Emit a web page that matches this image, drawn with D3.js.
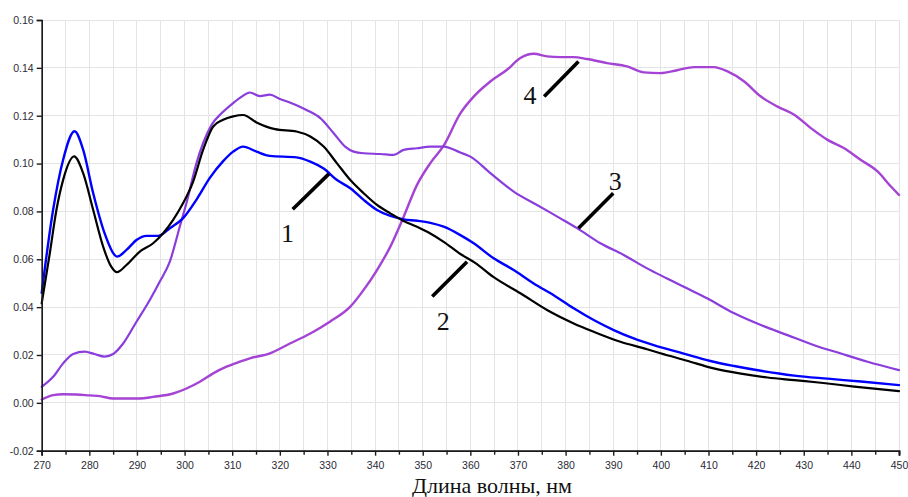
<!DOCTYPE html>
<html><head><meta charset="utf-8">
<script src="https://cdn.jsdelivr.net/npm/d3@7"></script>
<style>
html,body{margin:0;padding:0;background:#fff;}
svg{display:block;}
</style></head>
<body>
<svg id="chart" width="908" height="497"></svg>
<script>
// ---- data (wavelength nm, absorbance) ----
const series1 = [[270,0.046],[272.4,0.0807],[274.5,0.1016],[276.9,0.1135],[278.7,0.1058],[280.8,0.0877],[283.2,0.0709],[285.3,0.0618],[285.8,0.0611],[287.8,0.0639],[289.9,0.0681],[292,0.0698],[294.5,0.0698],[296.9,0.073],[299.7,0.0772],[302.5,0.0849],[305.3,0.094],[308.1,0.101],[310.2,0.105],[312.3,0.1071],[315.1,0.105],[317.9,0.1032],[323.5,0.1026],[326.4,0.1008],[329.2,0.0979],[332,0.0931],[334.8,0.0897],[337.6,0.0848],[340.4,0.0806],[343.2,0.0781],[346,0.0767],[348.8,0.0761],[351.6,0.0752],[354.4,0.0736],[357.9,0.0701],[360.7,0.0667],[364.9,0.0604],[369.1,0.0555],[373.3,0.0499],[377.5,0.045],[381.7,0.0395],[385.9,0.0346],[390.1,0.0304],[394.3,0.0269],[398.5,0.0241],[404.8,0.0206],[410.4,0.0175],[415.4,0.0154],[421,0.0134],[428,0.0114],[435,0.0101],[442,0.0089],[450,0.0074]];
const series2 = [[270,0.0416],[271.7,0.0625],[273.1,0.0807],[274.5,0.0932],[276.8,0.103],[278.7,0.096],[280.8,0.0807],[282.9,0.0653],[284.6,0.0569],[285.8,0.0546],[287.8,0.0576],[290.6,0.0632],[293.4,0.0667],[295.5,0.0709],[297.6,0.0765],[299.7,0.0835],[301.8,0.0925],[303.9,0.1058],[306,0.1155],[308.1,0.1183],[310.2,0.1197],[312.3,0.1203],[315.1,0.1172],[319,0.1144],[323.5,0.1134],[326.4,0.1113],[329.2,0.1071],[332,0.1001],[334.8,0.0931],[337.6,0.0876],[340.4,0.0827],[343.2,0.0792],[346,0.076],[348.8,0.0736],[351.6,0.0708],[354.4,0.0673],[357.9,0.0622],[361,0.0585],[364.9,0.0525],[370.5,0.0458],[376.1,0.0388],[381.7,0.0332],[385.9,0.0297],[391.5,0.0255],[397.1,0.0224],[399.9,0.0207],[405.5,0.0176],[411.1,0.0144],[416.8,0.0122],[422.4,0.0106],[428,0.0095],[433.6,0.0084],[440.6,0.0068],[450,0.0049]];
const series3 = [[270,0.0067],[272.4,0.0109],[274.5,0.0165],[276.6,0.0204],[279,0.0214],[281.1,0.0204],[283.2,0.0193],[285,0.0204],[287.1,0.0248],[289.9,0.0339],[292.7,0.043],[294.8,0.0507],[296.9,0.059],[299,0.0737],[300.4,0.0835],[302.5,0.1002],[303.9,0.1086],[305.7,0.1163],[307.8,0.1211],[310.2,0.1253],[312,0.128],[313.7,0.1297],[315.8,0.1282],[317.9,0.1288],[320,0.127],[322.1,0.1255],[325.6,0.1224],[328.5,0.119],[331.3,0.1127],[333.7,0.1071],[335.5,0.105],[337.6,0.1043],[341.1,0.104],[343.9,0.1036],[346,0.1057],[348.8,0.1064],[351.6,0.1071],[354.4,0.1071],[357.9,0.1046],[360,0.1029],[364.2,0.096],[369.1,0.0883],[374,0.0827],[378.9,0.0771],[382.4,0.073],[387.3,0.0667],[392.2,0.0618],[397.1,0.0562],[401.3,0.052],[404.8,0.0485],[409.7,0.0437],[415.4,0.0374],[421,0.0325],[426.6,0.0283],[432.2,0.0241],[437.8,0.0206],[443.4,0.0172],[450,0.0137]];
const series4 = [[270,0.0014],[272.4,0.0032],[274.5,0.0036],[277.3,0.0035],[280.1,0.0031],[282.2,0.0028],[285,0.0018],[290.6,0.0018],[293.4,0.0025],[297.6,0.0039],[300.4,0.006],[303.2,0.0088],[306,0.0123],[308.8,0.0151],[311.6,0.0172],[313.7,0.0186],[317.9,0.0207],[322.1,0.0248],[326.4,0.029],[330.5,0.0339],[334.8,0.0402],[337.6,0.0472],[340.4,0.0555],[343.2,0.0653],[346,0.0778],[348.8,0.0911],[351.6,0.1002],[354.4,0.1075],[357.9,0.121],[360.7,0.128],[364.2,0.1343],[367.7,0.1392],[370.5,0.1441],[373.3,0.1459],[376.1,0.1448],[378.9,0.1445],[381.7,0.1445],[384.5,0.1437],[388.7,0.142],[392.9,0.1406],[396.4,0.1381],[399.9,0.1378],[403.4,0.139],[407,0.1403],[411.1,0.1403],[414,0.1385],[417.5,0.1343],[421,0.128],[424.5,0.1238],[428,0.1204],[431.5,0.1148],[435,0.1099],[438.5,0.1064],[442,0.1015],[445.5,0.0967],[448.3,0.0904],[450,0.0869]];

const seriesList = [series1, series2, series3, series4];
const seriesColors = ["#0000ff", "#000000", "#8a3ddc", "#a443d4"];
const seriesWidths = [2.4, 2.2, 2.2, 2.4];

const xMajorTicks = [270,280,290,300,310,320,330,340,350,360,370,380,390,400,410,420,430,440,450];
const xMinorTicks = [275,285,295,305,315,325,335,345,355,365,375,385,395,405,415,425,435,445];
const yTicks = [-0.02,0.00,0.02,0.04,0.06,0.08,0.10,0.12,0.14,0.16];
const yTickLabels = ["-0.02","0.00","0.02","0.04","0.06","0.08","0.10","0.12","0.14","0.16"];

// annotation leaders in data units
const annLabels = ["1","2","3","4"];
const annLines = [[322.7,0.0809,330.3,0.0957],[352.0,0.0444,359.3,0.059],[382.7,0.073,390.0,0.0876],[375.5,0.128,382.7,0.1427]];
const annText = [[321.6,0.0672],[354.3,0.0304],[390.4,0.089],[372.5,0.125]];

const xTitle = "Длина волны, нм";

// ---- drawing ----
const svg = d3.select("#chart");
const x = d3.scaleLinear().domain([270,450]).range([41.7,899]);
const y = d3.scaleLinear().domain([-0.02,0.16]).range([450.7,20]);

const grid = svg.append("g").attr("stroke","#e4e4e4").attr("stroke-width",1).attr("shape-rendering","crispEdges");
grid.selectAll("line.v").data(xMajorTicks.concat(xMinorTicks)).join("line")
  .attr("class","v").attr("x1",d=>x(d)).attr("x2",d=>x(d)).attr("y1",y(0.16)).attr("y2",y(-0.02));
grid.selectAll("line.h").data(yTicks).join("line")
  .attr("class","h").attr("x1",x(270)).attr("x2",x(450)).attr("y1",d=>y(d)).attr("y2",d=>y(d));

const line = d3.line().x(d=>x(d[0])).y(d=>y(d[1])).curve(d3.curveMonotoneX);
const drawOrder = [3,2,0,1];
drawOrder.forEach(i=>{
  svg.append("path").datum(seriesList[i]).attr("d",line)
    .attr("fill","none").attr("stroke",seriesColors[i]).attr("stroke-width",seriesWidths[i])
    .attr("stroke-linejoin","round").attr("stroke-linecap","round");
});

// axes
const fmtY = d => yTickLabels[yTicks.indexOf(d)];
const yAxis = svg.append("g").attr("transform",`translate(${x(270)},0)`)
  .call(d3.axisLeft(y).tickValues(yTicks).tickFormat(fmtY).tickSize(5).tickPadding(3));
const xAxis = svg.append("g").attr("transform",`translate(0,${y(-0.02)})`)
  .call(d3.axisBottom(x).tickValues(xMajorTicks).tickFormat(d3.format("d")).tickSize(5).tickPadding(6));
const xAxisMinor = svg.append("g").attr("transform",`translate(0,${y(-0.02)})`)
  .call(d3.axisBottom(x).tickValues(xMinorTicks).tickFormat("").tickSize(4));
[yAxis,xAxis,xAxisMinor].forEach(g=>{
  g.select(".domain").attr("stroke","#1a1a1a").attr("stroke-width",1.6);
  g.selectAll(".tick line").attr("stroke","#1a1a1a").attr("stroke-width",1.4);
  g.selectAll(".tick text").attr("font-family","'Liberation Sans', Arial, sans-serif")
    .attr("font-size","10.5px").attr("fill","#2a2a35");
});

// annotations
svg.append("g").selectAll("line").data(annLines).join("line")
  .attr("x1",d=>x(d[0])).attr("y1",d=>y(d[1])).attr("x2",d=>x(d[2])).attr("y2",d=>y(d[3]))
  .attr("stroke","#000").attr("stroke-width",3.6);
svg.append("g").selectAll("text").data(annText).join("text")
  .attr("x",d=>x(d[0])).attr("y",d=>y(d[1])).attr("text-anchor","middle")
  .attr("font-family","'Liberation Serif','Times New Roman',serif").attr("font-size","26px").attr("fill","#111")
  .text((d,i)=>annLabels[i]);

svg.append("text").attr("x",492).attr("y",493).attr("text-anchor","middle")
  .attr("font-family","'Liberation Serif','Times New Roman',serif").attr("font-size","22px").attr("fill","#111")
  .text(xTitle);
</script>
</body></html>
